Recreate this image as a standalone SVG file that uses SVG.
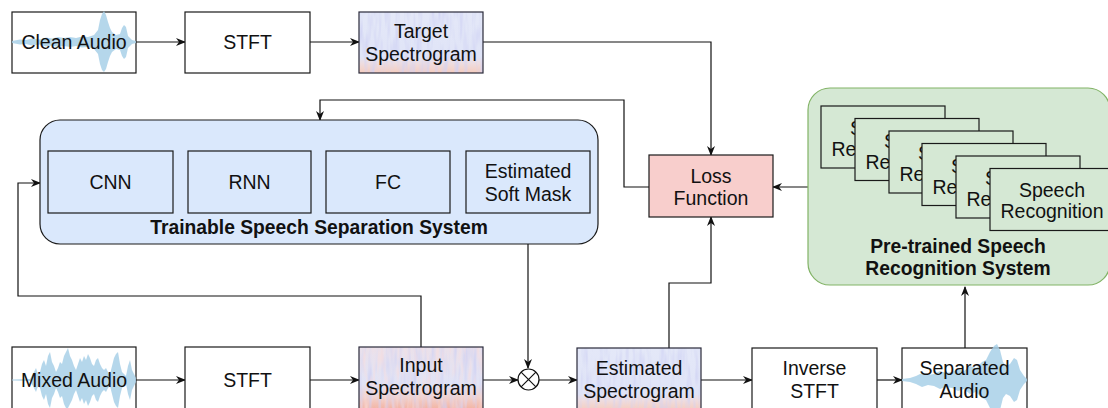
<svg xmlns="http://www.w3.org/2000/svg" width="1108" height="408" viewBox="0 0 1108 408">
  <style>
    .box { fill: #ffffff; stroke: #1a1a1a; stroke-width: 1.2; }
    .blue { fill: #dae8fc; stroke: #1a1a1a; stroke-width: 1.2; }
    .green { fill: #d5e8d4; stroke: #1a1a1a; stroke-width: 1.2; }
    .pink { fill: #f8cecc; stroke: #1a1a1a; stroke-width: 1.2; }
    .spec { fill: url(#specGrad); filter: url(#streaks); }
    .spec-hot { fill: url(#specGradHot); filter: url(#streaksHot); }
    .specframe { fill: none; stroke: #2a2a3a; stroke-width: 1.2; }
    .wave { fill: #a8d0e8; opacity: 0.85; }
    text { font-family: "Liberation Sans", Arial, Helvetica, sans-serif; font-size: 19.5px; fill: #111; text-anchor: middle; }
    .title { font-weight: bold; font-size: 19.3px; }
    .edge { fill: none; stroke: #111; stroke-width: 1.2; }
  </style>
  <defs>
    <marker id="arrow" viewBox="0 0 10 8" refX="9" refY="4" markerWidth="10" markerHeight="8" markerUnits="userSpaceOnUse" orient="auto">
      <path d="M0,0 L10,4 L0,8 L3,4 z" fill="#111"/>
    </marker>
    <linearGradient id="specGrad" x1="0" y1="0" x2="0" y2="1">
      <stop offset="0" stop-color="#e4e8f8"/>
      <stop offset="0.74" stop-color="#e0e4f7"/>
      <stop offset="0.84" stop-color="#eedde0"/>
      <stop offset="1" stop-color="#f5cdbf"/>
    </linearGradient>
    <linearGradient id="specGradHot" x1="0" y1="0" x2="0" y2="1">
      <stop offset="0" stop-color="#ebe1ea"/>
      <stop offset="0.6" stop-color="#e0e3f6"/>
      <stop offset="0.8" stop-color="#f1d3cf"/>
      <stop offset="1" stop-color="#f3b4a3"/>
    </linearGradient>
    <!-- vertical streak texture for the spectrogram tiles -->
    <filter id="streaks" x="0" y="0" width="100%" height="100%">
      <feTurbulence type="fractalNoise" baseFrequency="0.22 0.035" numOctaves="2" seed="4" result="n"/>
      <feColorMatrix in="n" type="matrix" values="0 0 0 0 0.62  0 0 0 0 0.64  0 0 0 0 0.90  1.9 0 0 0 -0.82" result="c"/>
      <feComposite in="c" in2="SourceGraphic" operator="atop"/>
    </filter>
    <filter id="streaksHot" x="0" y="0" width="100%" height="100%">
      <feTurbulence type="fractalNoise" baseFrequency="0.22 0.035" numOctaves="2" seed="9" result="n"/>
      <feColorMatrix in="n" type="matrix" values="0 0 0 0 0.62  0 0 0 0 0.64  0 0 0 0 0.90  1.9 0 0 0 -0.8" result="c"/>
      <feTurbulence type="fractalNoise" baseFrequency="0.25 0.04" numOctaves="2" seed="21" result="m"/>
      <feColorMatrix in="m" type="matrix" values="0 0 0 0 0.95  0 0 0 0 0.72  0 0 0 0 0.70  1.8 0 0 0 -0.85" result="r"/>
      <feComposite in="c" in2="SourceGraphic" operator="atop" result="a"/>
      <feComposite in="r" in2="a" operator="atop"/>
    </filter>
  </defs>

  <!-- connectors -->
  <g id="connectors">
    <path class="edge" d="M136,42 H185" marker-end="url(#arrow)"/>
    <path class="edge" d="M310,42 H359" marker-end="url(#arrow)"/>
    <path class="edge" d="M483,42 H711 V155" marker-end="url(#arrow)"/>
    <path class="edge" d="M649,187 H624 V100 H320 V120" marker-end="url(#arrow)"/>
    <path class="edge" d="M808,187 H773" marker-end="url(#arrow)"/>
    <path class="edge" d="M173,183 H188" marker-end="url(#arrow)"/>
    <path class="edge" d="M311,183 H326" marker-end="url(#arrow)"/>
    <path class="edge" d="M450,183 H466" marker-end="url(#arrow)"/>
    <path class="edge" d="M421,347 V296 H18 V183 H40" marker-end="url(#arrow)"/>
    <path class="edge" d="M528,213 V368" marker-end="url(#arrow)"/>
    <path class="edge" d="M136,380 H185" marker-end="url(#arrow)"/>
    <path class="edge" d="M310,380 H359" marker-end="url(#arrow)"/>
    <path class="edge" d="M483,380 H518" marker-end="url(#arrow)"/>
    <path class="edge" d="M539,380 H577" marker-end="url(#arrow)"/>
    <path class="edge" d="M669,348 V283 H711 V217" marker-end="url(#arrow)"/>
    <path class="edge" d="M701,380 H752" marker-end="url(#arrow)"/>
    <path class="edge" d="M877,380 H902" marker-end="url(#arrow)"/>
    <path class="edge" d="M965,348 V287" marker-end="url(#arrow)"/>
  </g>

  <!-- clean audio source -->
  <g id="clean-audio">
    <rect class="box" x="12" y="12" width="124" height="61"/>
    <path class="wave" d="M12,41 L20,39.5 L26,40 L32,38.5 L40,39.5 L46,37.5 L52,38.5 L58,37 L64,38 L70,37 L76,38 L82,36.5 L88,37 L94,35 L98,30 L100,20 L102,14 L104,11 L106,15 L108,22 L110,28 L112,32 L116,35 L120,34 L122,28 L124,25 L126,27 L128,36 L132,40 L136,41 L136,43 L132,44 L128,48 L126,57 L124,59 L122,56 L120,50 L116,49 L112,52 L110,56 L108,62 L106,69 L104,72 L102,70 L100,64 L98,54 L94,49 L88,47 L82,47.5 L76,46 L70,47 L64,46 L58,47 L52,45.5 L46,46.5 L40,44.5 L32,45.5 L26,44 L20,44.5 L12,43 Z"/>
    <text x="74" y="49">Clean Audio</text>
  </g>

  <g id="stft-top">
    <rect class="box" x="185" y="12" width="125" height="61"/>
    <text x="247.5" y="49">STFT</text>
  </g>

  <g id="target-spectrogram">
    <rect class="spec" x="359" y="12" width="124" height="61"/>
    <rect class="specframe" x="359" y="12" width="124" height="61"/>
    <text x="421" y="38">Target</text>
    <text x="421" y="61">Spectrogram</text>
  </g>

  <!-- trainable separation system -->
  <g id="trainable-system">
    <rect class="blue" x="40" y="120" width="558" height="124" rx="20"/>
    <text class="title" x="319" y="234">Trainable Speech Separation System</text>
  </g>
  <g id="cnn">
    <rect class="blue" x="48" y="151" width="125" height="62"/>
    <text x="110.5" y="189">CNN</text>
  </g>
  <g id="rnn">
    <rect class="blue" x="188" y="151" width="123" height="62"/>
    <text x="249.5" y="189">RNN</text>
  </g>
  <g id="fc">
    <rect class="blue" x="326" y="151" width="124" height="62"/>
    <text x="388" y="189">FC</text>
  </g>
  <g id="soft-mask">
    <rect class="blue" x="466" y="151" width="124" height="62"/>
    <text x="528" y="178">Estimated</text>
    <text x="528" y="201">Soft Mask</text>
  </g>

  <g id="loss-function">
    <rect class="pink" x="649" y="155" width="124" height="62"/>
    <text x="711" y="183">Loss</text>
    <text x="711" y="205">Function</text>
  </g>

  <!-- pre-trained recognition ensemble -->
  <g id="recognition-system">
    <rect x="808" y="88" width="302" height="197" rx="22" fill="#d5e8d4" stroke="#82b366" stroke-width="1.2"/>
    <g id="asr-1">
      <rect class="green" x="821" y="106" width="124" height="62"/>
      <text x="883" y="135">Speech</text>
      <text x="883" y="156">Recognition</text>
    </g>
    <g id="asr-2">
      <rect class="green" x="855" y="118.5" width="124" height="62"/>
      <text x="917" y="147.5">Speech</text>
      <text x="917" y="168.5">Recognition</text>
    </g>
    <g id="asr-3">
      <rect class="green" x="889" y="131" width="124" height="62"/>
      <text x="951" y="160">Speech</text>
      <text x="951" y="181">Recognition</text>
    </g>
    <g id="asr-4">
      <rect class="green" x="922" y="143.5" width="124" height="62"/>
      <text x="984" y="172.5">Speech</text>
      <text x="984" y="193.5">Recognition</text>
    </g>
    <g id="asr-5">
      <rect class="green" x="956" y="156" width="124" height="62"/>
      <text x="1018" y="185">Speech</text>
      <text x="1018" y="206">Recognition</text>
    </g>
    <g id="asr-6">
      <rect class="green" x="990" y="168.5" width="124" height="62"/>
      <text x="1052" y="197">Speech</text>
      <text x="1052" y="218">Recognition</text>
    </g>
    <text class="title" x="958" y="253">Pre-trained Speech</text>
    <text class="title" x="958" y="275">Recognition System</text>
  </g>

  <!-- bottom processing row -->
  <g id="mixed-audio">
    <rect class="box" x="12" y="347" width="124" height="62"/>
    <path class="wave" d="M12,379.5 L30,379 L34,372 L36,368 L38,374 L40,372 L42,364 L44,360 L46,366 L48,356 L50,352 L52,362 L54,366 L56,372 L58,368 L60,362 L62,364 L64,356 L66,352 L68,348 L70,356 L72,360 L74,366 L76,370 L78,364 L80,358 L82,362 L84,356 L86,360 L88,354 L90,358 L92,364 L94,366 L96,360 L98,358 L100,364 L102,368 L104,370 L106,368 L108,372 L110,374 L112,366 L114,358 L116,354 L118,352 L120,364 L122,372 L124,374 L126,376 L128,366 L130,360 L132,370 L134,374 L136,378 L136,382 L134,386 L132,390 L130,400 L128,394 L126,384 L124,386 L122,388 L120,396 L118,408 L116,406 L114,402 L112,394 L110,386 L108,388 L106,392 L104,390 L102,392 L100,396 L98,402 L96,400 L94,394 L92,396 L90,402 L88,406 L86,400 L84,404 L82,398 L80,402 L78,396 L76,390 L74,394 L72,400 L70,404 L68,408 L66,408 L64,404 L62,396 L60,398 L58,392 L56,388 L54,394 L52,398 L50,408 L48,404 L46,394 L44,400 L42,396 L40,388 L38,386 L36,392 L34,388 L30,381 L12,380.5 Z"/>
    <text x="74" y="387">Mixed Audio</text>
  </g>

  <g id="stft-bottom">
    <rect class="box" x="185" y="347" width="125" height="62"/>
    <text x="247.5" y="387">STFT</text>
  </g>

  <g id="input-spectrogram">
    <rect class="spec-hot" x="359" y="347" width="124" height="62"/>
    <rect class="specframe" x="359" y="347" width="124" height="62"/>
    <text x="421" y="372">Input</text>
    <text x="421" y="395">Spectrogram</text>
  </g>

  <g id="mask-multiply">
    <circle cx="528.5" cy="379.5" r="10.5" fill="#fff" stroke="#111" stroke-width="1.2"/>
    <path d="M521.1,372.1 L535.9,386.9 M535.9,372.1 L521.1,386.9" stroke="#111" stroke-width="1.2"/>
  </g>

  <g id="estimated-spectrogram">
    <rect class="spec" x="577" y="348" width="124" height="62"/>
    <rect class="specframe" x="577" y="348" width="124" height="62"/>
    <text x="639" y="375">Estimated</text>
    <text x="639" y="398">Spectrogram</text>
  </g>

  <g id="inverse-stft">
    <rect class="box" x="752" y="348" width="125" height="62"/>
    <text x="814.5" y="375">Inverse</text>
    <text x="814.5" y="398">STFT</text>
  </g>

  <g id="separated-audio">
    <rect class="box" x="902" y="348" width="125" height="62"/>
    <path class="wave" d="M902,379 L910,378 L916,376 L922,373 L928,375 L934,374 L940,371 L946,373 L952,372 L958,369 L964,371 L970,366 L976,368 L982,362 L986,360 L990,352 L994,346 L997,344 L1000,350 L1003,362 L1006,366 L1010,364 L1014,358 L1017,360 L1020,370 L1024,376 L1027,379 L1027,381 L1024,384 L1020,390 L1017,400 L1014,402 L1010,396 L1006,394 L1003,398 L1000,410 L994,410 L990,408 L986,400 L982,398 L976,392 L970,394 L964,389 L958,391 L952,388 L946,387 L940,389 L934,386 L928,385 L922,387 L916,384 L910,382 L902,381 Z"/>
    <text x="964.5" y="375">Separated</text>
    <text x="964.5" y="398">Audio</text>
  </g>
</svg>
